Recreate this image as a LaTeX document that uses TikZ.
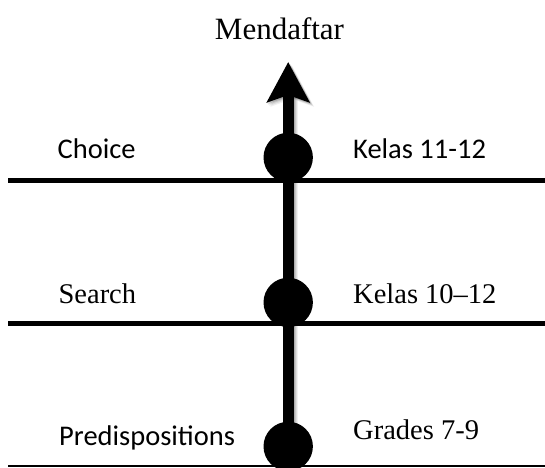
\documentclass[tikz,border=0pt]{standalone}
\usepackage{fontspec}
\setmainfont{Liberation Serif}
\newfontfamily\calib{Carlito}
\usetikzlibrary{arrows.meta}
\begin{document}
\begin{tikzpicture}[x=1pt,y=-1pt,
  sertxt/.style={font=\fontsize{28.5}{34}\selectfont, inner sep=0pt, anchor=base west},
  santxt/.style={font=\calib\fontsize{28.5}{34}\selectfont, inner sep=0pt, anchor=base west},
  dot/.style={circle, fill=black, minimum size=49.4pt, inner sep=0pt},
  level/.style={line width=5pt},
  axis/.style={line width=11pt, -{Stealth[length=40pt, width=42pt, inset=7pt]}},
]
\useasboundingbox (0,0) rectangle (545,467);
\coordinate (base) at (288.2,470);
\coordinate (tip) at (288.2,62);
% shadow of the arrow
\foreach \s/\o in {4/0.06,3/0.08,2/0.10,1.2/0.12}{
  \draw[axis, draw=black, fill=black, opacity=\o, transform canvas={shift={(\s pt,-\s pt)}}] (base) -- (tip);
}
\draw[axis] (base) -- (tip);
% level lines
\coordinate (l1w) at (8,180.7);  \coordinate (l1e) at (545,180.7);
\coordinate (l2w) at (8,323.8);  \coordinate (l2e) at (545,323.8);
\coordinate (l3w) at (8,465.6);  \coordinate (l3e) at (545,465.6);
\draw[level] (l1w) -- (l1e);
\draw[level] (l2w) -- (l2e);
\draw[line width=2pt] (l3w) -- (l3e);
% dots
\node[dot] (d1) at (288.2,157.4) {};
\node[dot] (d2) at (288.2,302.4) {};
\node[dot] (d3) at (288.2,446.4) {};
% texts
\node[font=\fontsize{31}{36}\selectfont, inner sep=0pt, anchor=base] (mend) at (279.5,39.3) {Mendaftar};
\node[santxt] (choice) at (57.5,158) {Choice};
\node[santxt] (k1112) at (353,158) {Kelas 11-12};
\node[sertxt] (search) at (58.4,303.5) {Search};
\node[sertxt] (k1012) at (353,303.5) {Kelas 10–12};
\node[santxt] (predis) at (59,445) {Predispositions};
\node[sertxt] (grades) at (353,439.5) {Grades 7-9};
\end{tikzpicture}
\end{document}
